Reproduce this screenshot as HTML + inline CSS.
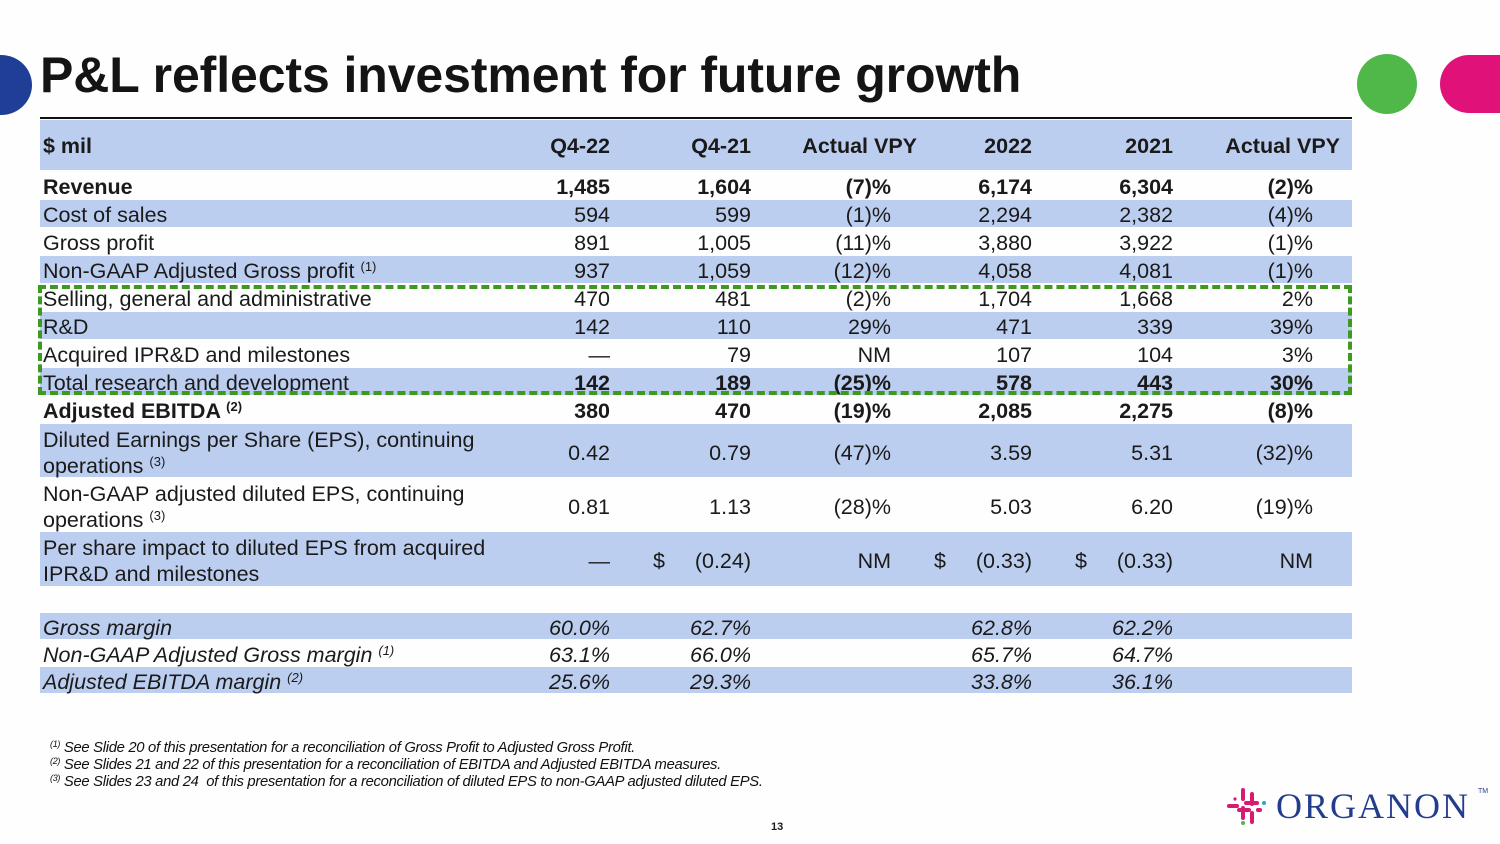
<!DOCTYPE html>
<html><head><meta charset="utf-8">
<style>
html,body{margin:0;padding:0}
body{width:1500px;height:844px;position:relative;background:#fefefe;font-family:"Liberation Sans",Arial,sans-serif;color:#1a1a1a;overflow:hidden}
.abs{position:absolute}
.row{position:absolute;left:40px;width:1312px}
.cell{position:absolute;white-space:nowrap;font-size:21.5px;line-height:24px}
sup{font-size:13px;vertical-align:7px;line-height:0}
.fn{position:absolute;left:50px;font-size:14.8px;font-style:italic;letter-spacing:-0.3px;color:#111}
.fn sup{font-size:9px;vertical-align:5px}
</style></head>
<body>
<div class="abs" style="left:-30px;top:55px;width:62px;height:60px;border-radius:50%;background:#1f3f96"></div>
<div class="abs" style="left:1357px;top:54px;width:60px;height:60px;border-radius:50%;background:#50b848"></div>
<div class="abs" style="left:1440px;top:55px;width:100px;height:58px;border-radius:29px;background:#e0127a"></div>
<div class="abs" style="left:40px;top:45px;font-size:50px;font-weight:bold;line-height:60px;color:#141414;letter-spacing:-0.1px">P&amp;L reflects investment for future growth</div>
<div class="abs" style="left:40px;top:117px;width:1312px;height:2px;background:#111"></div>
<div id="tbl"></div>
<div class="abs" style="left:38px;top:285px;width:1314px;height:110px;box-sizing:border-box;border:4px dashed #3d9a1f"></div>
<div class="fn" style="top:740px"><sup>(1)</sup> See Slide 20 of this presentation for a reconciliation of Gross Profit to Adjusted Gross Profit.</div>
<div class="fn" style="top:757px"><sup>(2)</sup> See Slides 21 and 22 of this presentation for a reconciliation of EBITDA and Adjusted EBITDA measures.</div>
<div class="fn" style="top:774px"><sup>(3)</sup> See Slides 23 and 24&nbsp; of this presentation for a reconciliation of diluted EPS to non-GAAP adjusted diluted EPS.</div>
<div class="abs" style="left:771px;top:821px;font-size:11px;font-weight:bold">13</div>
<div class="abs" style="left:1226px;top:784px;width:260px;height:44px">
<svg width="44" height="44" viewBox="0 0 44 44" style="position:absolute;left:0;top:0">
<g stroke="#d81b72" stroke-width="4" stroke-linecap="round">
<line x1="17" y1="6" x2="17" y2="15"/><line x1="26" y1="10" x2="26" y2="20"/>
<line x1="17" y1="24" x2="17" y2="34"/><line x1="26" y1="29" x2="26" y2="38"/>
<line x1="3" y1="22" x2="11" y2="22"/><line x1="20" y1="19" x2="31" y2="19"/>
<line x1="13" y1="26" x2="23" y2="26"/><line x1="32" y1="26" x2="34" y2="26"/>
</g><circle cx="38" cy="19" r="2" fill="#27a8c8"/><circle cx="17" cy="39" r="2" fill="#50b848"/><circle cx="9" cy="15" r="1.6" fill="#d81b72"/></svg>
<div style="position:absolute;left:50px;top:2px;font-family:'Liberation Serif',serif;font-size:36px;letter-spacing:2px;color:#233d8c;line-height:40px">ORGANON</div>
<div style="position:absolute;left:252px;top:4px;font-size:7px;color:#233d8c">TM</div>
</div>
<script>
const colRight=[610,751,891,1032,1173,1313];
const labels=["Revenue","Cost of sales","Gross profit","Non-GAAP Adjusted Gross profit","Selling, general and administrative","R&D","Acquired IPR&D and milestones","Total research and development","Adjusted EBITDA","Diluted Earnings per Share (EPS), continuing<br>operations","Non-GAAP adjusted diluted EPS, continuing<br>operations","Per share impact to diluted EPS from acquired<br>IPR&D and milestones","Gross margin","Non-GAAP Adjusted Gross margin","Adjusted EBITDA margin"];
const sups=["","","","(1)","","","","","(2)","(3)","(3)","","","(1)","(2)"];
const q422=["1,485","594","891","937","470","142","—","142","380","0.42","0.81","—","60.0%","63.1%","25.6%"];
const q421=["1,604","599","1,005","1,059","481","110","79","189","470","0.79","1.13","(0.24)","62.7%","66.0%","29.3%"];
const vpyQ=["(7)%","(1)%","(11)%","(12)%","(2)%","29%","NM","(25)%","(19)%","(47)%","(28)%","NM","","",""];
const y2022=["6,174","2,294","3,880","4,058","1,704","471","107","578","2,085","3.59","5.03","(0.33)","62.8%","65.7%","33.8%"];
const y2021=["6,304","2,382","3,922","4,081","1,668","339","104","443","2,275","5.31","6.20","(0.33)","62.2%","64.7%","36.1%"];
const vpyY=["(2)%","(4)%","(1)%","(1)%","2%","39%","3%","30%","(8)%","(32)%","(19)%","NM","","",""];
const rowTop=[172,200,228,256,284,312,340,368,396,424,478,532,613,640,667];
const rowH=[27,27,27,27,27,27,27,27,27,53,53,54,26,26,26];
const shaded=[0,1,0,1,0,1,0,1,0,1,0,1,1,0,1];
const boldLabel=[1,0,0,0,0,0,0,0,1,0,0,0,0,0,0];
const boldVal=[1,0,0,0,0,0,0,1,1,0,0,0,0,0,0];
const tbl=document.getElementById('tbl');
function cell(parent,html,styles){const d=document.createElement('div');d.className='cell';d.innerHTML=html;Object.assign(d.style,styles);parent.appendChild(d);return d;}
const hdr=document.createElement('div');


hdr.className='row';hdr.style.top='120px';hdr.style.height='50px';hdr.style.background='#bccef0';
tbl.appendChild(hdr);
const hTexts=["Q4-22","Q4-21","Actual VPY","2022","2021","Actual VPY"];
const hRights=[610,751,917,1032,1173,1340];
const h0=cell(hdr,"$ mil",{left:'3px',top:'14px',fontWeight:'bold'});


hTexts.forEach((t,i)=>{const c=cell(hdr,t,{right:(1352-hRights[i])+'px',top:'14px',fontWeight:'bold'});

});
const cols=[q422,q421,vpyQ,y2022,y2021,vpyY];
labels.forEach((lab,r)=>{
  const row=document.createElement('div');
  
  
  row.className='row';row.style.top=rowTop[r]+'px';row.style.height=rowH[r]+'px';
  row.style.background=shaded[r]?'#bccef0':'transparent';
  tbl.appendChild(row);
  const fs=r>=12?'italic':'normal';
  const two=rowH[r]>40;
  const l=cell(row,lab.replace(/&/g,'&amp;').replace(/&amp;lt;br&amp;gt;/g,'<br>')+(sups[r]?' <sup>'+sups[r]+'</sup>':''),{left:'3px',top:'3px',fontWeight:boldLabel[r]?'bold':'normal',fontStyle:fs,lineHeight:two?'26px':'24px'});
  
  
  const vt=two?Math.round(rowH[r]/2-10)+'px':'3px';
  cols.forEach((col,c)=>{
    if(!col[r])return;
    const v=cell(row,col[r],{right:(1352-colRight[c])+'px',top:vt,fontWeight:boldVal[r]?'bold':'normal',fontStyle:fs});
    
    
  });
  if(r===11){
    [653,934,1075].forEach(x=>{const s=cell(row,'$',{left:(x-40)+'px',top:vt});
    
    });
  }
});
</script>
</body></html>
